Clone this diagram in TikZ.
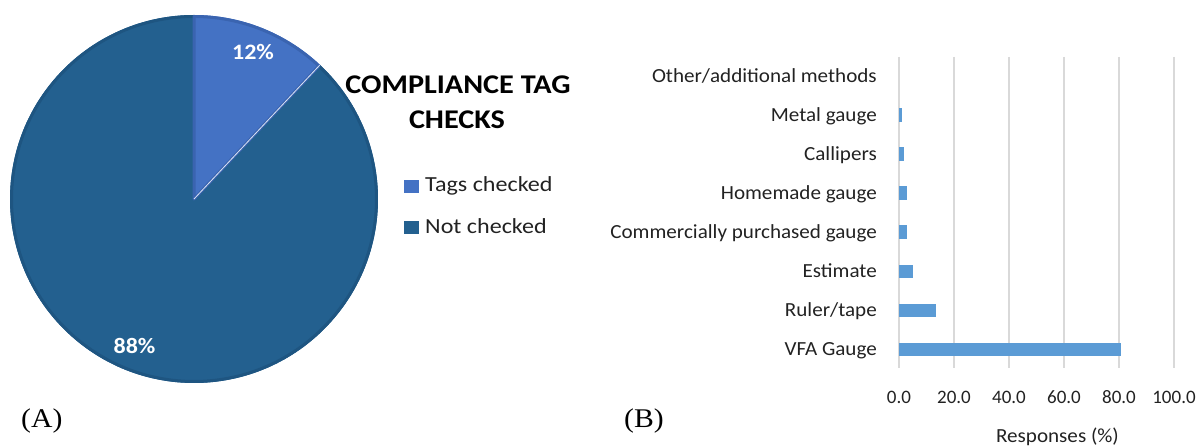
\documentclass[tikz,border=0pt]{standalone}
\usepackage{fontspec}
\setmainfont{Carlito}
\newfontfamily\catf{Carlito}[FakeStretch=1.055]
\newfontfamily\legf{Carlito}[FakeStretch=1.12]
\newfontfamily\pctf{Carlito}[FakeStretch=1.09]
\newfontfamily\serifA{Liberation Serif}[FakeStretch=1.1]
\definecolor{sliceA}{HTML}{4472C4}
\definecolor{sliceAedge}{HTML}{3A64B0}
\definecolor{sliceB}{HTML}{23608F}
\definecolor{sliceBedge}{HTML}{1E5581}
\definecolor{barc}{HTML}{5B9BD5}
\definecolor{gridc}{HTML}{D9D9D9}
\definecolor{txt}{HTML}{222222}
\begin{document}
\begin{tikzpicture}[x=1pt,y=-1pt,
  cat/.style={anchor=base east,inner sep=0pt,font=\catf\fontsize{20}{20}\selectfont,text=txt},
  tick/.style={anchor=base,inner sep=0pt,font=\fontsize{19}{19}\selectfont,text=txt},
  axlab/.style={anchor=base,inner sep=0pt,font=\catf\fontsize{20}{20}\selectfont,text=txt},
  pct/.style={anchor=base,inner sep=0pt,font=\pctf\bfseries\fontsize{22}{22}\selectfont,text=white},
  legtxt/.style={anchor=base west,inner sep=0pt,font=\legf\fontsize{21.5}{21.5}\selectfont,text=txt},
  ttl/.style={anchor=base,inner sep=0pt,font=\legf\bfseries\fontsize{27}{27}\selectfont,text=black},
  panel/.style={anchor=base west,inner sep=0pt,font=\serifA\fontsize{27}{27}\selectfont,text=black},
  gridline/.style={draw=gridc,line width=1.5pt}]
\useasboundingbox (0,0) rectangle (1200,446);
% ---------- pie ----------
\coordinate (pc) at (194,199);
\fill[sliceB] (pc) -- ++(-46.8:184) arc[start angle=-46.8,end angle=270,radius=184] -- cycle;
\draw[sliceBedge,line width=3pt] (pc) ++(-46.8:182.5) arc[start angle=-46.8,end angle=270,radius=182.5];
\fill[sliceA] (pc) -- ++(-90:184) arc[start angle=-90,end angle=-46.8,radius=184] -- cycle;
\draw[sliceAedge,line width=3pt,line join=round] (pc) -- ++(-90:182.5) arc[start angle=-90,end angle=-46.8,radius=182.5] -- cycle;
\draw[white!80!sliceA,line width=0.8pt] (pc) -- ++(-46.8:184);
\node[pct] (p12) at (253,60) {12\%};
\node[pct] (p88) at (134.5,354) {88\%};
% title and legend
\node[ttl] (t1) at (458,93.3) {COMPLIANCE TAG};
\node[ttl] (t2) at (457,128.3) {CHECKS};
\fill[sliceA] (404,180) rectangle (419,193);
\node[legtxt] (l1) at (425,191.7) {Tags checked};
\fill[sliceB] (404,221) rectangle (419,234);
\node[legtxt] (l2) at (425,233.3) {Not checked};
\node[panel] (pa) at (21,427.3) {(A)};
% ---------- bar chart ----------
\foreach \v in {0,20,40,60,80,100}{
  \draw[gridline] ({899+\v*2.75},57) -- ({899+\v*2.75},368);
}
\node[tick] (x0) at (899,403.3) {0.0};
\node[tick] (x20) at (954,403.3) {20.0};
\node[tick] (x40) at (1009,403.3) {40.0};
\node[tick] (x60) at (1064,403.3) {60.0};
\node[tick] (x80) at (1119,403.3) {80.0};
\node[tick] (x100) at (1174,403.3) {100.0};
\node[axlab] (xl) at (1057.5,442.7) {Responses (\%)};
\foreach \i/\lab/\val in {0/Other\slash additional methods/0,1/Metal gauge/1.1,2/Callipers/1.8,3/Homemade gauge/2.9,4/Commercially purchased gauge/2.9,5/Estimate/5.1,6/Ruler\slash tape/13.5,7/VFA Gauge/80.9}{
  \pgfmathsetmacro{\yc}{76+\i*39.07}
  \node[cat] (c\i) at (877,\yc+6.5) {\lab};
  \ifdim\val pt>0pt
    \fill[barc] (899,\yc-6.8) rectangle ({899+\val*2.75},\yc+6.8);
  \fi
}
\node[panel] (pb) at (624,427.3) {(B)};
\end{tikzpicture}
\end{document}
